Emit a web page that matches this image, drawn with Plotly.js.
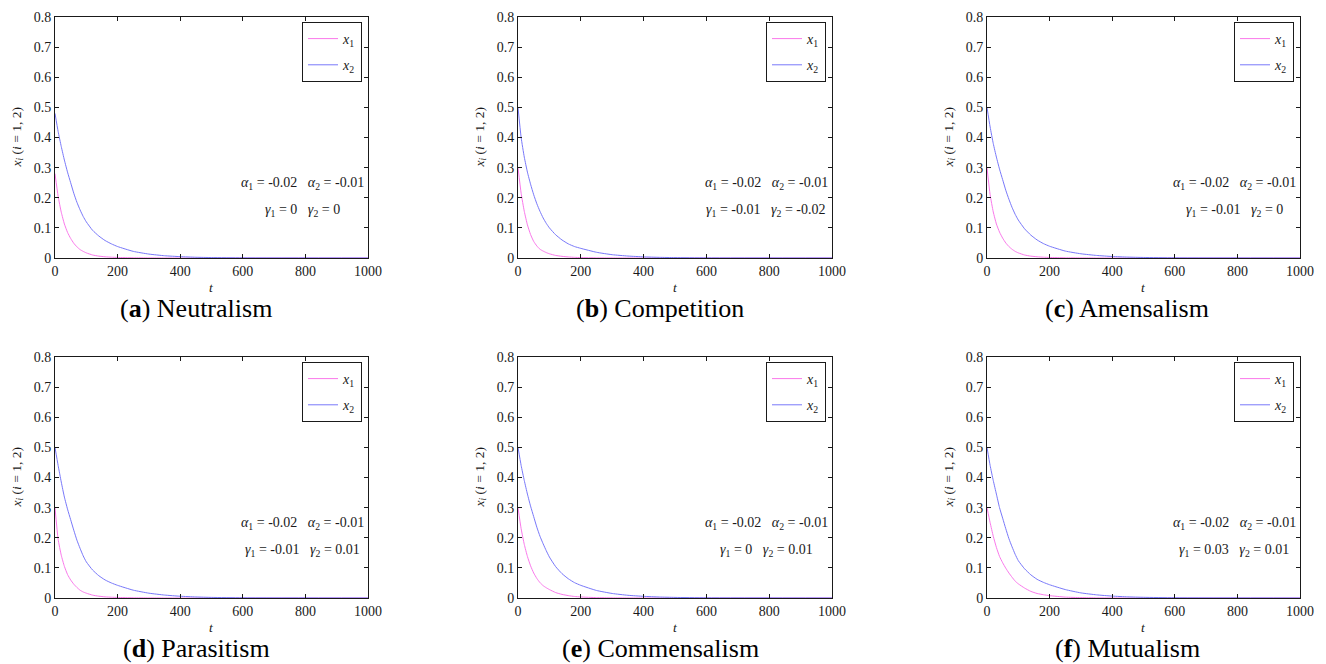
<!DOCTYPE html>
<html>
<head>
<meta charset="utf-8">
<script src="https://cdn.plot.ly/plotly-3.0.1.min.js"></script>
<style>
  html, body { margin: 0; padding: 0; background: #fff; }
  #chart { width: 1326px; height: 664px; }
</style>
</head>
<body>
<div id="chart"></div>
<script>
// ---- data ----
const T = [0, 10, 20, 30, 40, 50, 60, 70, 80, 90, 100, 120, 140, 160, 180, 200, 250, 300, 350, 400, 450, 500, 600, 1000];

const aX1 = [0.28, 0.205, 0.152, 0.113, 0.085, 0.065, 0.049, 0.037, 0.028, 0.022, 0.017, 0.010, 0.0062, 0.004, 0.0027, 0.0018, 0.0007, 0.0003, 0.0001, 0, 0, 0, 0, 0];
const aX2 = [0.48, 0.42, 0.37, 0.325, 0.285, 0.25, 0.215, 0.185, 0.16, 0.138, 0.12, 0.092, 0.073, 0.058, 0.047, 0.038, 0.022, 0.013, 0.0075, 0.0045, 0.0025, 0.0015, 0.0005, 0];

const bX1 = [0.30, 0.215, 0.155, 0.11, 0.078, 0.055, 0.04, 0.029, 0.023, 0.018, 0.014, 0.0085, 0.0055, 0.0035, 0.0022, 0.0014, 0.0005, 0.0002, 0.0001, 0, 0, 0, 0, 0];
const bX2 = [0.50, 0.40, 0.335, 0.285, 0.245, 0.21, 0.18, 0.155, 0.133, 0.115, 0.10, 0.077, 0.06, 0.047, 0.038, 0.032, 0.019, 0.011, 0.0065, 0.0038, 0.0022, 0.0013, 0.0004, 0];

const cX1 = [0.30, 0.21, 0.153, 0.113, 0.086, 0.066, 0.05, 0.038, 0.029, 0.022, 0.017, 0.010, 0.0062, 0.004, 0.0027, 0.0018, 0.0007, 0.0003, 0.0001, 0, 0, 0, 0, 0];
const cX2 = [0.50, 0.435, 0.38, 0.335, 0.295, 0.26, 0.225, 0.195, 0.168, 0.145, 0.126, 0.097, 0.076, 0.06, 0.048, 0.039, 0.023, 0.014, 0.0085, 0.005, 0.003, 0.0018, 0.0006, 0];

const dX1 = [0.30, 0.195, 0.142, 0.105, 0.078, 0.06, 0.046, 0.035, 0.026, 0.02, 0.016, 0.0095, 0.006, 0.0038, 0.0026, 0.0018, 0.0007, 0.0003, 0.0001, 0, 0, 0, 0, 0];
const dX2 = [0.50, 0.44, 0.385, 0.335, 0.295, 0.26, 0.225, 0.192, 0.165, 0.14, 0.12, 0.093, 0.074, 0.06, 0.05, 0.042, 0.026, 0.016, 0.0098, 0.0058, 0.0035, 0.002, 0.0007, 0];

const eX1 = [0.30, 0.23, 0.178, 0.138, 0.107, 0.083, 0.065, 0.051, 0.041, 0.034, 0.028, 0.018, 0.012, 0.008, 0.005, 0.0035, 0.0013, 0.0005, 0.0002, 0.0001, 0, 0, 0, 0];
const eX2 = [0.50, 0.44, 0.39, 0.345, 0.305, 0.27, 0.235, 0.205, 0.18, 0.157, 0.136, 0.104, 0.081, 0.064, 0.051, 0.042, 0.025, 0.015, 0.009, 0.0055, 0.0033, 0.002, 0.0007, 0];

const fX1 = [0.30, 0.25, 0.205, 0.168, 0.138, 0.117, 0.099, 0.083, 0.069, 0.056, 0.047, 0.033, 0.022, 0.015, 0.011, 0.0078, 0.003, 0.0013, 0.0005, 0.0002, 0, 0, 0, 0];
const fX2 = [0.50, 0.44, 0.39, 0.345, 0.30, 0.265, 0.23, 0.197, 0.17, 0.145, 0.124, 0.097, 0.077, 0.062, 0.052, 0.044, 0.028, 0.017, 0.0105, 0.0063, 0.0038, 0.0023, 0.0008, 0];

const seriesX1 = [aX1, bX1, cX1, dX1, eX1, fX1];
const seriesX2 = [aX2, bX2, cX2, dX2, eX2, fX2];

const panelLetters = ['a', 'b', 'c', 'd', 'e', 'f'];
const panelNames = ['Neutralism', 'Competition', 'Amensalism', 'Parasitism', 'Commensalism', 'Mutualism'];
const alpha1 = ['-0.02', '-0.02', '-0.02', '-0.02', '-0.02', '-0.02'];
const alpha2 = ['-0.01', '-0.01', '-0.01', '-0.01', '-0.01', '-0.01'];
const gamma1 = ['0', '-0.01', '-0.01', '-0.01', '0', '0.03'];
const gamma2 = ['0', '-0.02', '0', '0.01', '0.01', '0.01'];
const seriesNames = ['<i>x</i><sub>1</sub>', '<i>x</i><sub>2</sub>'];
const xTicks = [0, 200, 400, 600, 800, 1000];
const yTicks = [0, 0.1, 0.2, 0.3, 0.4, 0.5, 0.6, 0.7, 0.8];

// ---- layout geometry (pixels) ----
const W = 1326, H = 664;
const colL = [55, 518, 987], colR = [368, 832, 1300];
const rowT = [17, 357], rowB = [258, 598];
const capX = [196, 660, 1127], capY = [308, 648];
const COL1 = 'rgb(250,120,235)', COL2 = 'rgb(120,120,250)';
const SERIF = '"Liberation Serif", "Times New Roman", serif';
const INK = '#1a1a1a';

const px = v => v / W;
const py = v => 1 - v / H;

const data = [];
const layout = {
  width: W, height: H,
  margin: {l: 0, r: 0, t: 0, b: 0},
  paper_bgcolor: '#fff', plot_bgcolor: '#fff',
  font: {family: SERIF, color: INK, size: 14},
  annotations: [],
  showlegend: true
};

for (let i = 0; i < 6; i++) {
  const r = Math.floor(i / 3), c = i % 3;
  const s = i === 0 ? '' : String(i + 1);
  const xa = 'x' + s, ya = 'y' + s;
  const lg = 'legend' + s;
  data.push({
    x: T, y: seriesX1[i], type: 'scatter', mode: 'lines', name: seriesNames[0],
    xaxis: xa, yaxis: ya, legend: lg, legendgroup: 'g1_' + i,
    line: {color: COL1, width: 1, shape: 'spline', smoothing: 0.5}
  });
  data.push({
    x: T, y: seriesX2[i], type: 'scatter', mode: 'lines', name: seriesNames[1],
    xaxis: xa, yaxis: ya, legend: lg, legendgroup: 'g2_' + i,
    line: {color: COL2, width: 1, shape: 'spline', smoothing: 0.5}
  });
  const axCommon = {
    showgrid: false, zeroline: false, showline: true, linecolor: INK, linewidth: 1,
    mirror: 'ticks', ticks: 'inside', ticklen: 4, tickwidth: 1, tickcolor: INK,
    tickfont: {family: SERIF, size: 14, color: INK}, fixedrange: true
  };
  layout['xaxis' + s] = Object.assign({}, axCommon, {
    domain: [px(colL[c]), px(colR[c])], anchor: ya, range: [0, 1000],
    tickvals: xTicks, ticktext: xTicks.map(String)
  });
  layout['yaxis' + s] = Object.assign({}, axCommon, {
    domain: [py(rowB[r]), py(rowT[r])], anchor: xa, range: [0, 0.8],
    tickvals: yTicks, ticktext: yTicks.map(v => String(v))
  });
  layout[lg] = {
    x: px(colR[c] - 6), y: py(rowT[r] + 5), xanchor: 'right', yanchor: 'top',
    xref: 'paper', yref: 'paper',
    bgcolor: '#fff', bordercolor: INK, borderwidth: 1,
    font: {family: SERIF, size: 14, color: INK},
    tracegroupgap: 5, itemwidth: 30
  };
  // parameter annotations (data coords)
  layout.annotations.push({
    xref: xa, yref: ya, x: 790, y: 0.247, showarrow: false, xanchor: 'center', yanchor: 'middle',
    text: '<i>α</i><sub>1</sub> = ' + alpha1[i] + '   <i>α</i><sub>2</sub> = ' + alpha2[i],
    font: {family: SERIF, size: 14, color: INK}
  });
  layout.annotations.push({
    xref: xa, yref: ya, x: 790, y: 0.157, showarrow: false, xanchor: 'center', yanchor: 'middle',
    text: '<i>γ</i><sub>1</sub> = ' + gamma1[i] + '   <i>γ</i><sub>2</sub> = ' + gamma2[i],
    font: {family: SERIF, size: 14, color: INK}
  });
  // axis titles
  layout.annotations.push({
    xref: 'paper', yref: 'paper', x: px(colL[c] - 38), y: py((rowT[r] + rowB[r]) / 2),
    showarrow: false, textangle: -90, xanchor: 'center', yanchor: 'middle',
    text: '<i>x<sub>i</sub></i> (<i>i</i> = 1, 2)',
    font: {family: SERIF, size: 13.5, color: INK}
  });
  layout.annotations.push({
    xref: 'paper', yref: 'paper', x: px((colL[c] + colR[c]) / 2), y: py(rowB[r] + 29),
    showarrow: false, xanchor: 'center', yanchor: 'middle',
    text: '<i>t</i>', font: {family: SERIF, size: 13.5, color: INK}
  });
  // caption
  layout.annotations.push({
    xref: 'paper', yref: 'paper', x: px(capX[c]), y: py(capY[r]),
    showarrow: false, xanchor: 'center', yanchor: 'middle',
    text: '(<b>' + panelLetters[i] + '</b>) ' + panelNames[i],
    font: {family: SERIF, size: 26, color: '#000'}
  });
}

Plotly.newPlot('chart', data, layout, {displayModeBar: false});
</script>
</body>
</html>
